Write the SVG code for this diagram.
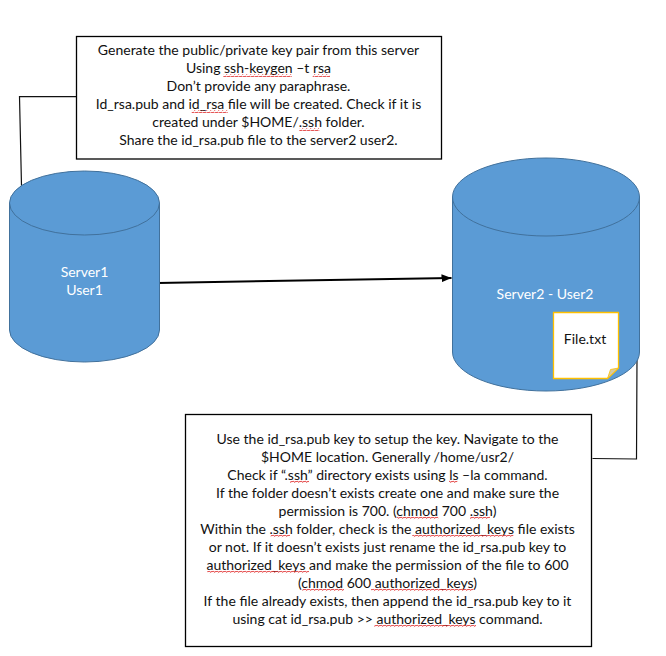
<svg xmlns="http://www.w3.org/2000/svg" width="666" height="656" viewBox="0 0 666 656">
<defs>
<pattern id="zig" width="4" height="3" patternUnits="userSpaceOnUse"><path d="M0 2.2L1 1L3 2.4L4 1" fill="none" stroke="#e03030" stroke-width="0.9"/></pattern>
<marker id="arr" markerUnits="userSpaceOnUse" markerWidth="12" markerHeight="10" refX="10" refY="4" orient="auto"><path d="M0 0L10 4L0 8Z" fill="#000"/></marker>
</defs>
<style>
text{font-family:"Lato","Liberation Sans",sans-serif;font-size:14.03px;text-anchor:middle;fill:#111}
.w{fill:#fff}
.box{fill:#fff;stroke:#000;stroke-width:1.3}
.cyl{fill:#5b9bd5;stroke:#41719c;stroke-width:1}
.lid{fill:none;stroke:#41719c;stroke-width:1}
.c{fill:none;stroke:#111;stroke-width:1.2}
.z{fill:url(#zig)}
</style>
<rect width="666" height="656" fill="#fff"/>
<g id="connectors">
<path class="c" d="M79 96.700H19.500L21.500 186"/>
<path class="c" d="M637 358L636.500 459L592.500 458.500"/>
<path d="M158 283L451.500 278" fill="none" stroke="#000" stroke-width="2" marker-end="url(#arr)"/>
</g>
<g id="server1">
<path class="cyl" d="M9.500 203A75 32 0 0 1 159.500 203V330A75 32 0 0 1 9.500 330Z"/>
<path class="lid" d="M9.500 203A75 32 0 0 0 159.500 203"/>
<text class="w" x="84.500" y="277">Server1</text>
<text class="w" x="84.500" y="295">User1</text>
</g>
<g id="server2">
<path class="cyl" d="M452.500 197A93.500 39 0 0 1 639.500 197V352A93.500 39 0 0 1 452.500 352Z"/>
<path class="lid" d="M452.500 197A93.500 39 0 0 0 639.500 197"/>
<text class="w" x="545" y="299">Server2 - User2</text>
</g>
<g id="file">
<path d="M553.500 312.500H618.500V368L607.500 378.500H553.500Z" fill="#fff" stroke="#ffc000" stroke-width="1.300"/>
<path d="M607.500 378.500L610.500 369.500L618.500 368Z" fill="#d8c9a0" stroke="#ffc000" stroke-width="0.800"/>
<text x="585" y="344">File.txt</text>
</g>
<g id="note1">
<rect class="box" x="76.500" y="36.500" width="365" height="122.500"/>
<text x="258.500" y="55">Generate the public/private key pair from this server</text>
<text x="258.500" y="73">Using ssh-keygen –t rsa</text>
<text x="258.500" y="91">Don’t provide any paraphrase.</text>
<text x="258.500" y="109">Id_rsa.pub and id_rsa file will be created. Check if it is</text>
<text x="258.500" y="127">created under $HOME/.ssh folder.</text>
<text x="258.500" y="145">Share the id_rsa.pub file to the server2 user2.</text>
<rect class="z" x="223.300" y="74" width="68.400" height="3"/>
<rect class="z" x="312.700" y="74" width="17.300" height="3"/>
<rect class="z" x="191.700" y="110" width="36" height="3"/>
<rect class="z" x="299.300" y="128" width="20" height="3"/>
</g>
<g id="note2">
<rect class="box" x="185.500" y="414.500" width="406" height="232"/>
<text x="387.500" y="444">Use the id_rsa.pub key to setup the key. Navigate to the</text>
<text x="387.500" y="462">$HOME location. Generally /home/usr2/</text>
<text x="387.500" y="480">Check if “.ssh” directory exists using ls –la command.</text>
<text x="387.500" y="498">If the folder doesn’t exists create one and make sure the</text>
<text x="387.500" y="516">permission is 700. (chmod 700 .ssh)</text>
<text x="387.500" y="534">Within the .ssh folder, check is the authorized_keys file exists</text>
<text x="387.500" y="552">or not. If it doesn’t exists just rename the id_rsa.pub key to</text>
<text x="387.500" y="570">authorized_keys and make the permission of the file to 600</text>
<text x="387.500" y="588">(chmod 600 authorized_keys)</text>
<text x="387.500" y="606">If the file already exists, then append the id_rsa.pub key to it</text>
<text x="387.500" y="624">using cat id_rsa.pub &gt;&gt; authorized_keys command.</text>
<rect class="z" x="290" y="480" width="19" height="3"/>
<rect class="z" x="449" y="480" width="8.300" height="3"/>
<rect class="z" x="396.700" y="516.500" width="41.600" height="3"/>
<rect class="z" x="470" y="516.500" width="20" height="3"/>
<rect class="z" x="270.700" y="534.500" width="19.300" height="3"/>
<rect class="z" x="412.300" y="534.500" width="101" height="3"/>
<rect class="z" x="207.300" y="570.500" width="101.700" height="3"/>
<rect class="z" x="302.300" y="588.500" width="41.700" height="3"/>
<rect class="z" x="371" y="588.500" width="102.300" height="3"/>
<rect class="z" x="374.300" y="624.500" width="101.700" height="3"/>
</g>
</svg>
